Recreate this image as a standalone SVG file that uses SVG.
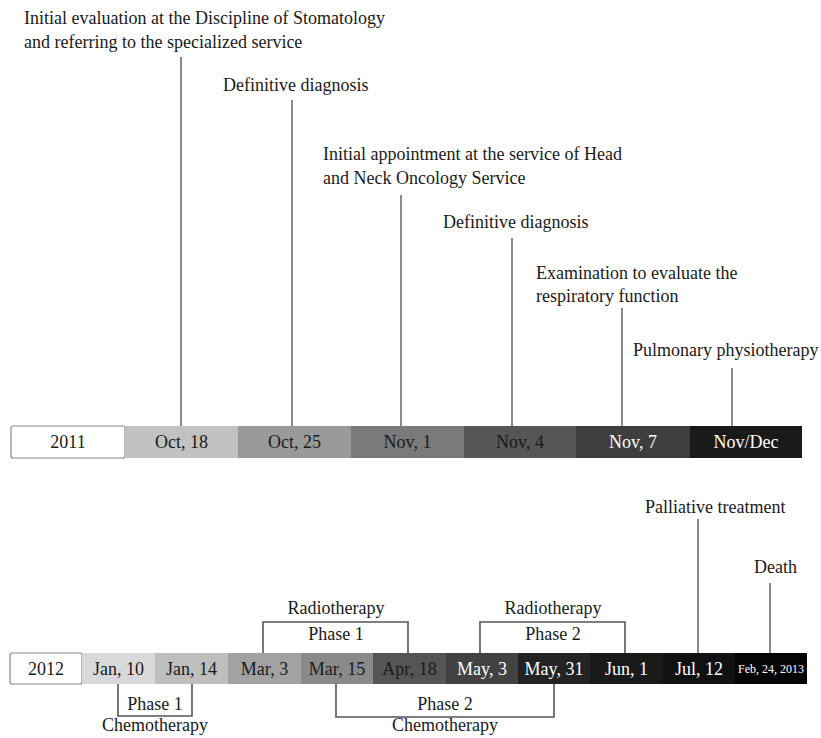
<svg xmlns="http://www.w3.org/2000/svg" width="821" height="738" viewBox="0 0 821 738">
<style>
text{font-family:"Liberation Serif","Times New Roman",serif;font-size:18px;fill:#1a1a1a}
.c{text-anchor:middle}
.w{fill:#ffffff}
.seg{stroke:none}
.ln{stroke:#6e6e6e;stroke-width:1.6;fill:none}
.br{stroke:#555;stroke-width:1.6;fill:none}
.yr{fill:#fff;stroke:#888;stroke-width:1.2}
</style>
<rect width="821" height="738" fill="#fff"/>
<g id="connectors">
<line class="ln" x1="181" y1="57" x2="181" y2="426"/>
<line class="ln" x1="292" y1="100" x2="292" y2="426"/>
<line class="ln" x1="401" y1="195" x2="401" y2="426"/>
<line class="ln" x1="512" y1="238" x2="512" y2="426"/>
<line class="ln" x1="622" y1="308" x2="622" y2="426"/>
<line class="ln" x1="732" y1="368" x2="732" y2="426"/>
<line class="ln" x1="698" y1="519" x2="698" y2="653"/>
<line class="ln" x1="770" y1="583" x2="770" y2="653"/>
<polyline class="br" points="263,653 263,622 408,622 408,653"/>
<polyline class="br" points="480,653 480,622 625,622 625,653"/>
<polyline class="br" points="118,684 118,716 192,716 192,684"/>
<polyline class="br" points="336,684 336,717 554,717 554,684"/>
</g>
<g id="labels-2011">
<text x="24" y="24">Initial evaluation at the Discipline of Stomatology</text>
<text x="24" y="48">and referring to the specialized service</text>
<text x="223" y="91">Definitive diagnosis</text>
<text x="323" y="160">Initial appointment at the service of Head</text>
<text x="323" y="184">and Neck Oncology Service</text>
<text x="443" y="228">Definitive diagnosis</text>
<text x="536" y="279">Examination to evaluate the</text>
<text x="536" y="302">respiratory function</text>
<text x="633" y="356">Pulmonary physiotherapy</text>
</g>
<g id="bar-2011">
<g id="y2011"><rect class="yr" x="11" y="426" width="114" height="32" rx="2"/><text class="c" x="68" y="448">2011</text></g>
<g id="oct18"><rect class="seg" x="125" y="426" width="113" height="32" fill="#c2c2c2"/><text class="c" x="181.5" y="448">Oct, 18</text></g>
<g id="oct25"><rect class="seg" x="238" y="426" width="113" height="32" fill="#9a9a9a"/><text class="c" x="294.5" y="448">Oct, 25</text></g>
<g id="nov1"><rect class="seg" x="351" y="426" width="113" height="32" fill="#7a7a7a"/><text class="c" x="407.5" y="448">Nov, 1</text></g>
<g id="nov4"><rect class="seg" x="464" y="426" width="112" height="32" fill="#565656"/><text class="c" x="520" y="448">Nov, 4</text></g>
<g id="nov7"><rect class="seg" x="576" y="426" width="114" height="32" fill="#3e3e3e"/><text class="c w" x="633" y="448">Nov, 7</text></g>
<g id="novdec"><rect class="seg" x="690" y="426" width="112" height="32" fill="#1a1a1a"/><text class="c w" x="746" y="448">Nov/Dec</text></g>
</g>
<g id="labels-2012">
<text x="645" y="513">Palliative treatment</text>
<text x="754" y="573">Death</text>
<text class="c" x="336" y="614">Radiotherapy</text>
<text class="c" x="336" y="640">Phase 1</text>
<text class="c" x="553" y="614">Radiotherapy</text>
<text class="c" x="553" y="640">Phase 2</text>
<text class="c" x="155" y="710">Phase 1</text>
<text class="c" x="155" y="731">Chemotherapy</text>
<text class="c" x="445" y="710">Phase 2</text>
<text class="c" x="445" y="731">Chemotherapy</text>
</g>
<g id="bar-2012">
<g id="y2012"><rect class="yr" x="10" y="653" width="72" height="31" rx="2"/><text class="c" x="46" y="675">2012</text></g>
<g id="jan10"><rect class="seg" x="82" y="653" width="73" height="31" fill="#d9d9d9"/><text class="c" x="118.5" y="675">Jan, 10</text></g>
<g id="jan14"><rect class="seg" x="155" y="653" width="73" height="31" fill="#bebebe"/><text class="c" x="191.5" y="675">Jan, 14</text></g>
<g id="mar3"><rect class="seg" x="228" y="653" width="73" height="31" fill="#a2a2a2"/><text class="c" x="264.5" y="675">Mar, 3</text></g>
<g id="mar15"><rect class="seg" x="301" y="653" width="72" height="31" fill="#8a8a8a"/><text class="c" x="337" y="675">Mar, 15</text></g>
<g id="apr18"><rect class="seg" x="373" y="653" width="73" height="31" fill="#555555"/><text class="c" x="409.5" y="675">Apr, 18</text></g>
<g id="may3"><rect class="seg" x="446" y="653" width="72" height="31" fill="#424242"/><text class="c w" x="482" y="675">May, 3</text></g>
<g id="may31"><rect class="seg" x="518" y="653" width="72" height="31" fill="#232323"/><text class="c w" x="554" y="675">May, 31</text></g>
<g id="jun1"><rect class="seg" x="590" y="653" width="73" height="31" fill="#1a1a1a"/><text class="c w" x="626.5" y="675">Jun, 1</text></g>
<g id="jul12"><rect class="seg" x="663" y="653" width="72" height="31" fill="#111111"/><text class="c w" x="699" y="675">Jul, 12</text></g>
<g id="feb24"><rect class="seg" x="735" y="653" width="72" height="31" fill="#050505"/><text class="c w" x="771" y="673" style="font-size:12px">Feb, 24, 2013</text></g>
</g>
</svg>
